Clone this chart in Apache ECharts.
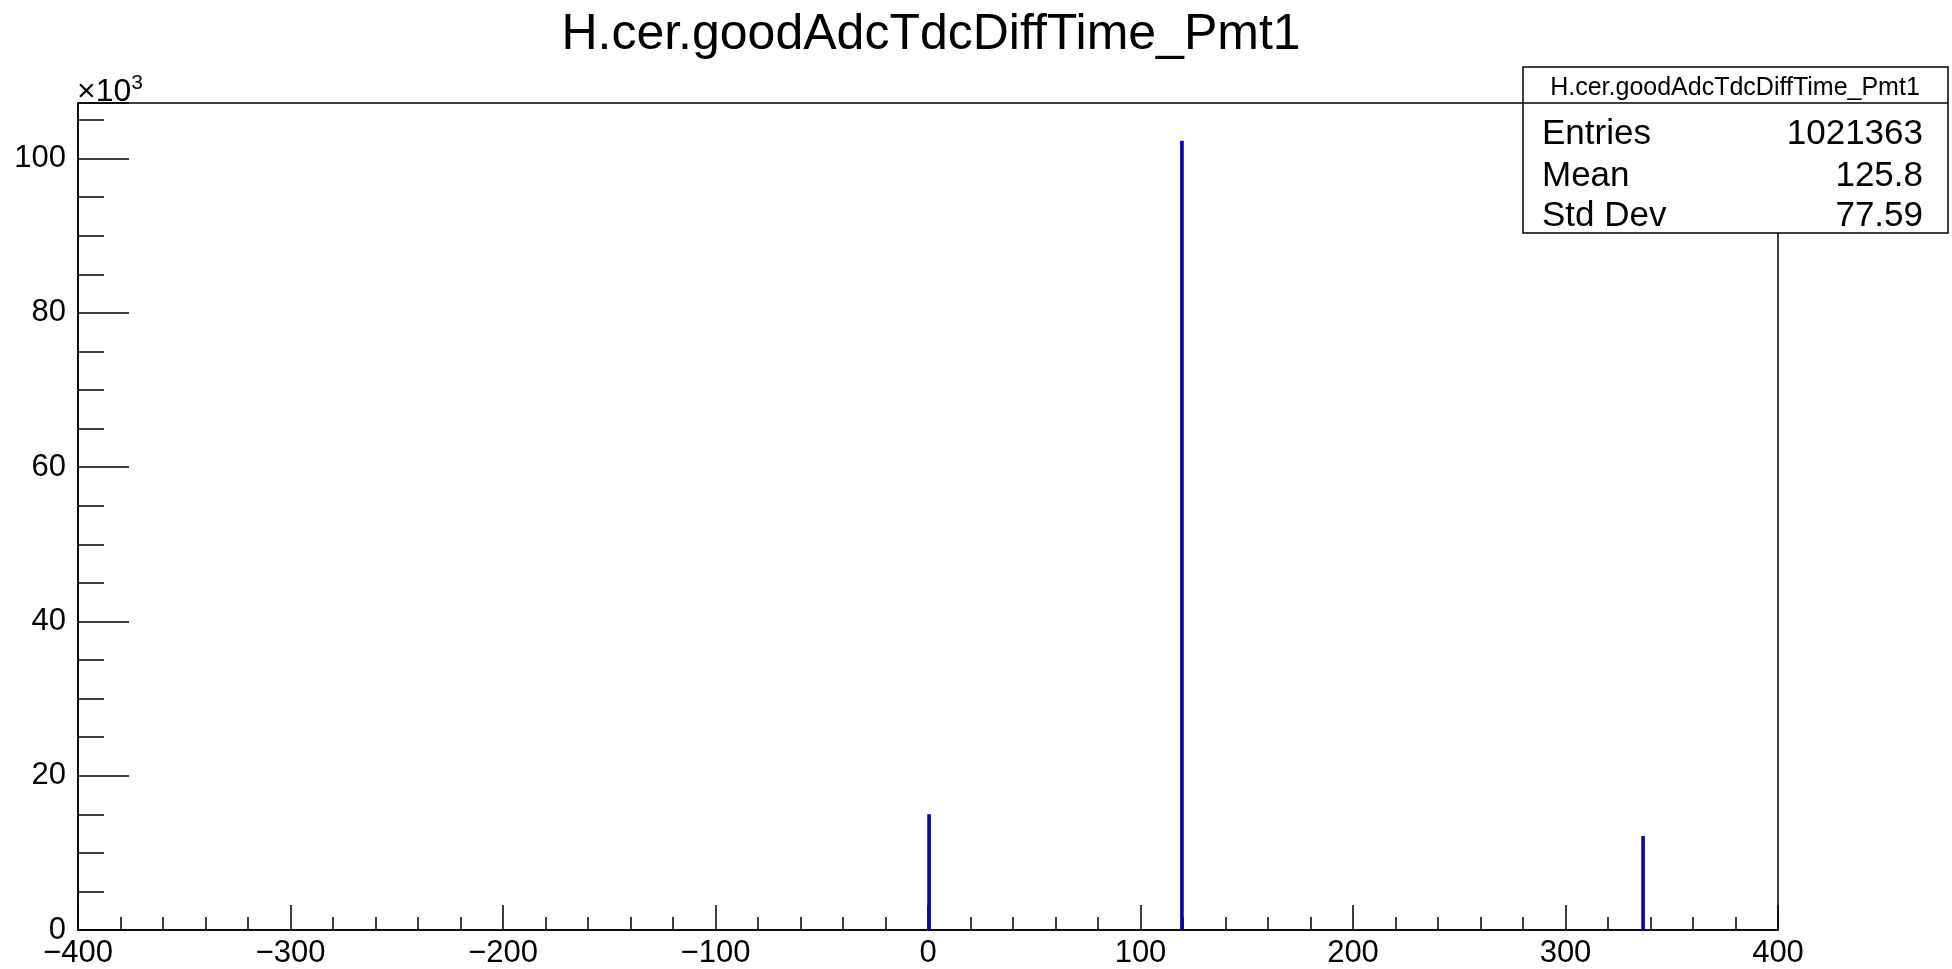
<!DOCTYPE html>
<html>
<head>
<meta charset="utf-8">
<script src="https://cdn.jsdelivr.net/npm/echarts@6/dist/echarts.min.js"></script>
<style>
html,body{margin:0;padding:0;background:#fff;}
#c{width:1952px;height:969px;}
</style>
</head>
<body>
<div id="c"></div>
<script>
// Histogram data (bin edges and counts)
const binLo = [0, 119, 336];
const binHi = [1, 120, 337];
const counts = [14900, 102200, 12100];
const titleText = 'H.cer.goodAdcTdcDiffTime_Pmt1';
const statNames = ['Entries', 'Mean', 'Std Dev'];
const statValues = ['1021363', '125.8', '77.59'];

const FONT = '"Liberation Sans", Arial, Helvetica, sans-serif';
const chart = echarts.init(document.getElementById('c'));
const data = binLo.map((lo, i) => [lo, binHi[i], counts[i]]);
const LINE = '#000';

const statGraphics = [
  {type:'text', x:931, y:35, style:{text:titleText, font:'50px ' + FONT, fill:'#000', textAlign:'center', textVerticalAlign:'middle'}, z:101},
  {type:'rect', shape:{x:1523, y:67, width:425, height:166}, style:{fill:'#fff', stroke:'#000', lineWidth:1.5}, z:100},
  {type:'line', shape:{x1:1523, y1:103, x2:1948, y2:103}, style:{stroke:'#000', lineWidth:1.5}, z:101},
  {type:'text', x:1735, y:88, style:{text:titleText, font:'25px ' + FONT, fill:'#000', textAlign:'center', textVerticalAlign:'middle'}, z:101}
];
const rowY = [134, 176, 216];
statNames.forEach((n, i) => {
  statGraphics.push({type:'text', x:1542, y:rowY[i], style:{text:n, font:'35px ' + FONT, fill:'#000', textAlign:'left', textVerticalAlign:'middle'}, z:101});
  statGraphics.push({type:'text', x:1923, y:rowY[i], style:{text:statValues[i], font:'35px ' + FONT, fill:'#000', textAlign:'right', textVerticalAlign:'middle'}, z:101});
});
statGraphics.push({type:'text', x:77, y:92, style:{rich:{a:{font:'32px ' + FONT, fill:'#000'}, s:{font:'21px ' + FONT, fill:'#000', verticalAlign:'top', padding:[0,0,18,0]}}, text:'{a|×10}{s|3}', textVerticalAlign:'middle'}, z:101});

chart.setOption({
  animation:false,
  backgroundColor:'#fff',
  grid:{left:78, right:174, top:103, bottom:37, show:true, borderColor:LINE, borderWidth:1.5, backgroundColor:'transparent'},
  xAxis:{type:'value', min:-400, max:400, interval:100,
    axisLine:{show:true, onZero:false, lineStyle:{color:LINE, width:1.5}},
    axisTick:{show:true, inside:true, length:25, lineStyle:{color:LINE, width:1.5}},
    minorTick:{show:true, splitNumber:5, length:13, lineStyle:{color:LINE, width:1.5}},
    splitLine:{show:false},
    axisLabel:{fontFamily:FONT, fontSize:31, color:'#000', margin:8, formatter:v => (v < 0 ? '\u2212' + (-v) : '' + v)}
  },
  yAxis:{type:'value', min:0, max:107200, interval:20000,
    axisLine:{show:true, onZero:false, lineStyle:{color:LINE, width:1.5}},
    axisTick:{show:true, inside:true, length:51, lineStyle:{color:LINE, width:1.5}},
    minorTick:{show:true, splitNumber:4, length:26, lineStyle:{color:LINE, width:1.5}},
    splitLine:{show:false},
    axisLabel:{fontFamily:FONT, fontSize:31, color:'#000', margin:12, showMaxLabel:false,
      formatter:v => (v % 20000 === 0 ? '' + (v / 1000) : '')}
  },
  graphic:statGraphics,
  series:[{
    type:'custom',
    data:data,
    encode:{x:[0,1], y:2},
    renderItem:function(params, api){
      const p0 = api.coord([api.value(0), 0]);
      const p1 = api.coord([api.value(1), api.value(2)]);
      return {type:'rect', shape:{x:p0[0], y:p1[1], width:p1[0]-p0[0], height:p0[1]-p1[1]},
        style:{fill:'#0808a0', stroke:'#0808a0', lineWidth:1.5}};
    }
  }]
});
</script>
</body>
</html>
